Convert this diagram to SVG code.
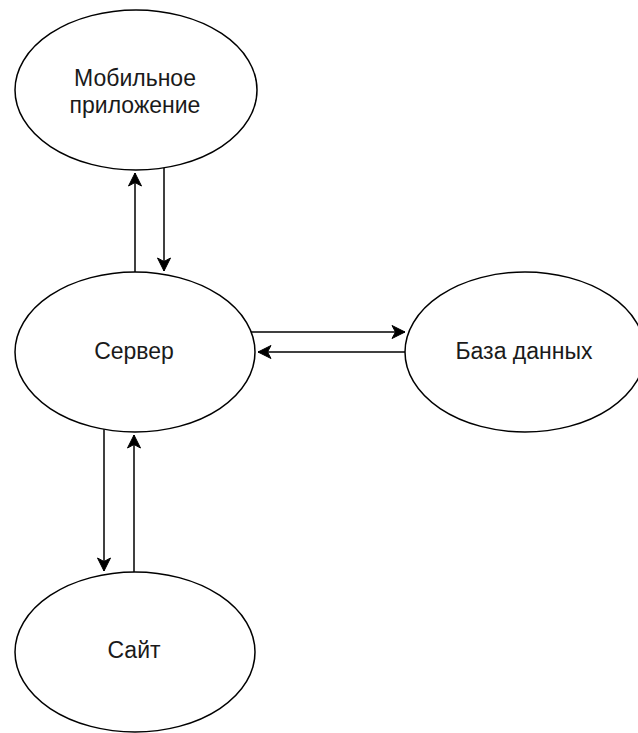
<svg xmlns="http://www.w3.org/2000/svg" width="638" height="733" viewBox="0 0 638 733">
<style>
.node ellipse{fill:#ffffff;stroke:#000000;stroke-width:1.5}
.node text{font-family:"Liberation Sans",Arial,sans-serif;font-size:23px;fill:#1a1a1a;text-anchor:middle}
.edge{stroke:#000000;stroke-width:1.5;fill:none;marker-end:url(#arr)}
</style>
<defs>
<marker id="arr" markerUnits="userSpaceOnUse" refX="0" refY="0" markerWidth="20" markerHeight="20" orient="auto" overflow="visible">
<path d="M0,0 L-13,-6.5 L-9.5,0 L-13,6.5 Z" fill="#000000" stroke="#000000" stroke-width="1" stroke-linejoin="miter"/>
</marker>
</defs>
<rect width="638" height="733" fill="#ffffff"/>
<g id="connectors">
<line class="edge" x1="135" y1="272" x2="135" y2="173"/>
<line class="edge" x1="164" y1="168" x2="164" y2="271"/>
<line class="edge" x1="251" y1="332" x2="405" y2="332"/>
<line class="edge" x1="405" y1="352" x2="258" y2="352"/>
<line class="edge" x1="104" y1="429" x2="104" y2="571"/>
<line class="edge" x1="134" y1="572" x2="134" y2="435"/>
</g>
<g id="mobile" class="node">
<ellipse cx="136" cy="90" rx="121" ry="80"/>
<text x="135" y="86">Мобильное</text>
<text x="135" y="113">приложение</text>
</g>
<g id="server" class="node">
<ellipse cx="135" cy="352" rx="120" ry="80"/>
<text x="134" y="359">Сервер</text>
</g>
<g id="database" class="node">
<ellipse cx="525" cy="352" rx="120" ry="80"/>
<text x="524" y="359">База данных</text>
</g>
<g id="site" class="node">
<ellipse cx="135" cy="652" rx="120" ry="80"/>
<text x="134" y="658">Сайт</text>
</g>
</svg>
